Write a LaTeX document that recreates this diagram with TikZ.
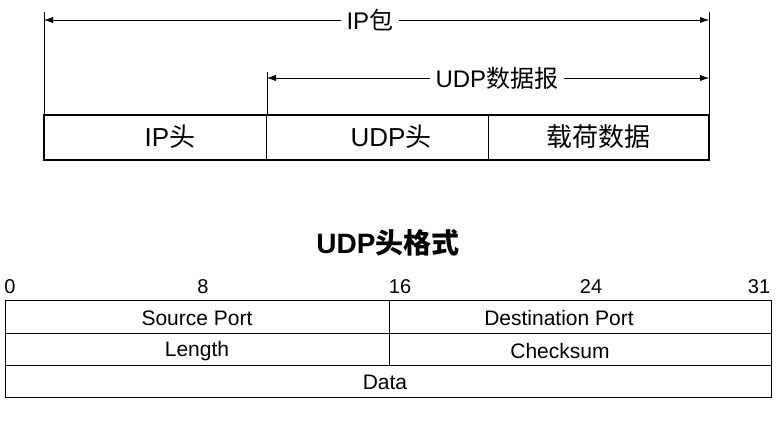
\documentclass[tikz,border=0pt]{standalone}
\usepackage{fontspec}
\setmainfont{Liberation Sans}
\newfontfamily\cjk{Noto Sans CJK SC}
\usetikzlibrary{positioning,arrows.meta}

\begin{document}
\begin{tikzpicture}[x=1pt,y=-1pt,
span/.style={{Latex[length=9pt,width=6pt]}-{Latex[length=9pt,width=6pt]}, thin},
spanlabel/.style={fill=white, inner sep=6pt, font=\fontsize{24}{24}\selectfont},
field/.style={font=\fontsize{26}{26}\selectfont},
bitno/.style={font=\fontsize{20}{20}\selectfont},
cell/.style={font=\fontsize{21}{21}\selectfont}
]
\useasboundingbox (0,0) rectangle (777,421);
%Guides
\coordinate (P0) at (44,12);
\coordinate (P1) at (709,12);
\coordinate (U0) at (267,72);
\coordinate (B0) at (44,115);
\coordinate (B1) at (709,115);
\coordinate (B2) at (267,115);
\draw (P0) -- (B0);
\draw (P1) -- (B1);
\draw (U0) -- (B2);
%Spans
\coordinate (IPa) at (44,20);
\coordinate (IPb) at (709,20);
\draw[span] (IPa) -- (IPb) node[spanlabel,pos=0.49] {IP{\cjk 包}};
\coordinate (UDa) at (267,78);
\coordinate (UDb) at (709,78);
\draw[span] (UDa) -- (UDb) node[spanlabel,pos=0.52] {UDP{\cjk 数据报}};
%Packet
\draw[very thick] (44,115) rectangle (709,160);
\draw (266,115) -- (266,160);
\draw (488,115) -- (488,160);
\node[field] (iph) at (170,137) {IP{\cjk 头}};
\node[field] (udph) at (391,137) {UDP{\cjk 头}};
\node[field] (load) at (598,137) {\cjk 载荷数据};
%Header format
\node[font=\fontsize{28}{28}\selectfont\bfseries] (title) at (388,243) {UDP{\cjk\bfseries 头格式}};
\foreach \x/\b in {10/0, 203/8, 400/16, 591/24, 759/31}
  \node[bitno] at (\x,287) {\b};
\draw (5,300) rectangle (771,397);
\draw (5,333) -- (771,333);
\draw (5,365) -- (771,365);
\draw (389,300) -- (389,365);
\node[cell] (src) at (197,318) {Source Port};
\node[cell] (dst) at (559,318) {Destination Port};
\node[cell] (len) at (197,351) {Length};
\node[cell] (chk) at (560,351) {Checksum};
\node[cell] (dat) at (385,382) {Data};
\end{tikzpicture}
\end{document}
